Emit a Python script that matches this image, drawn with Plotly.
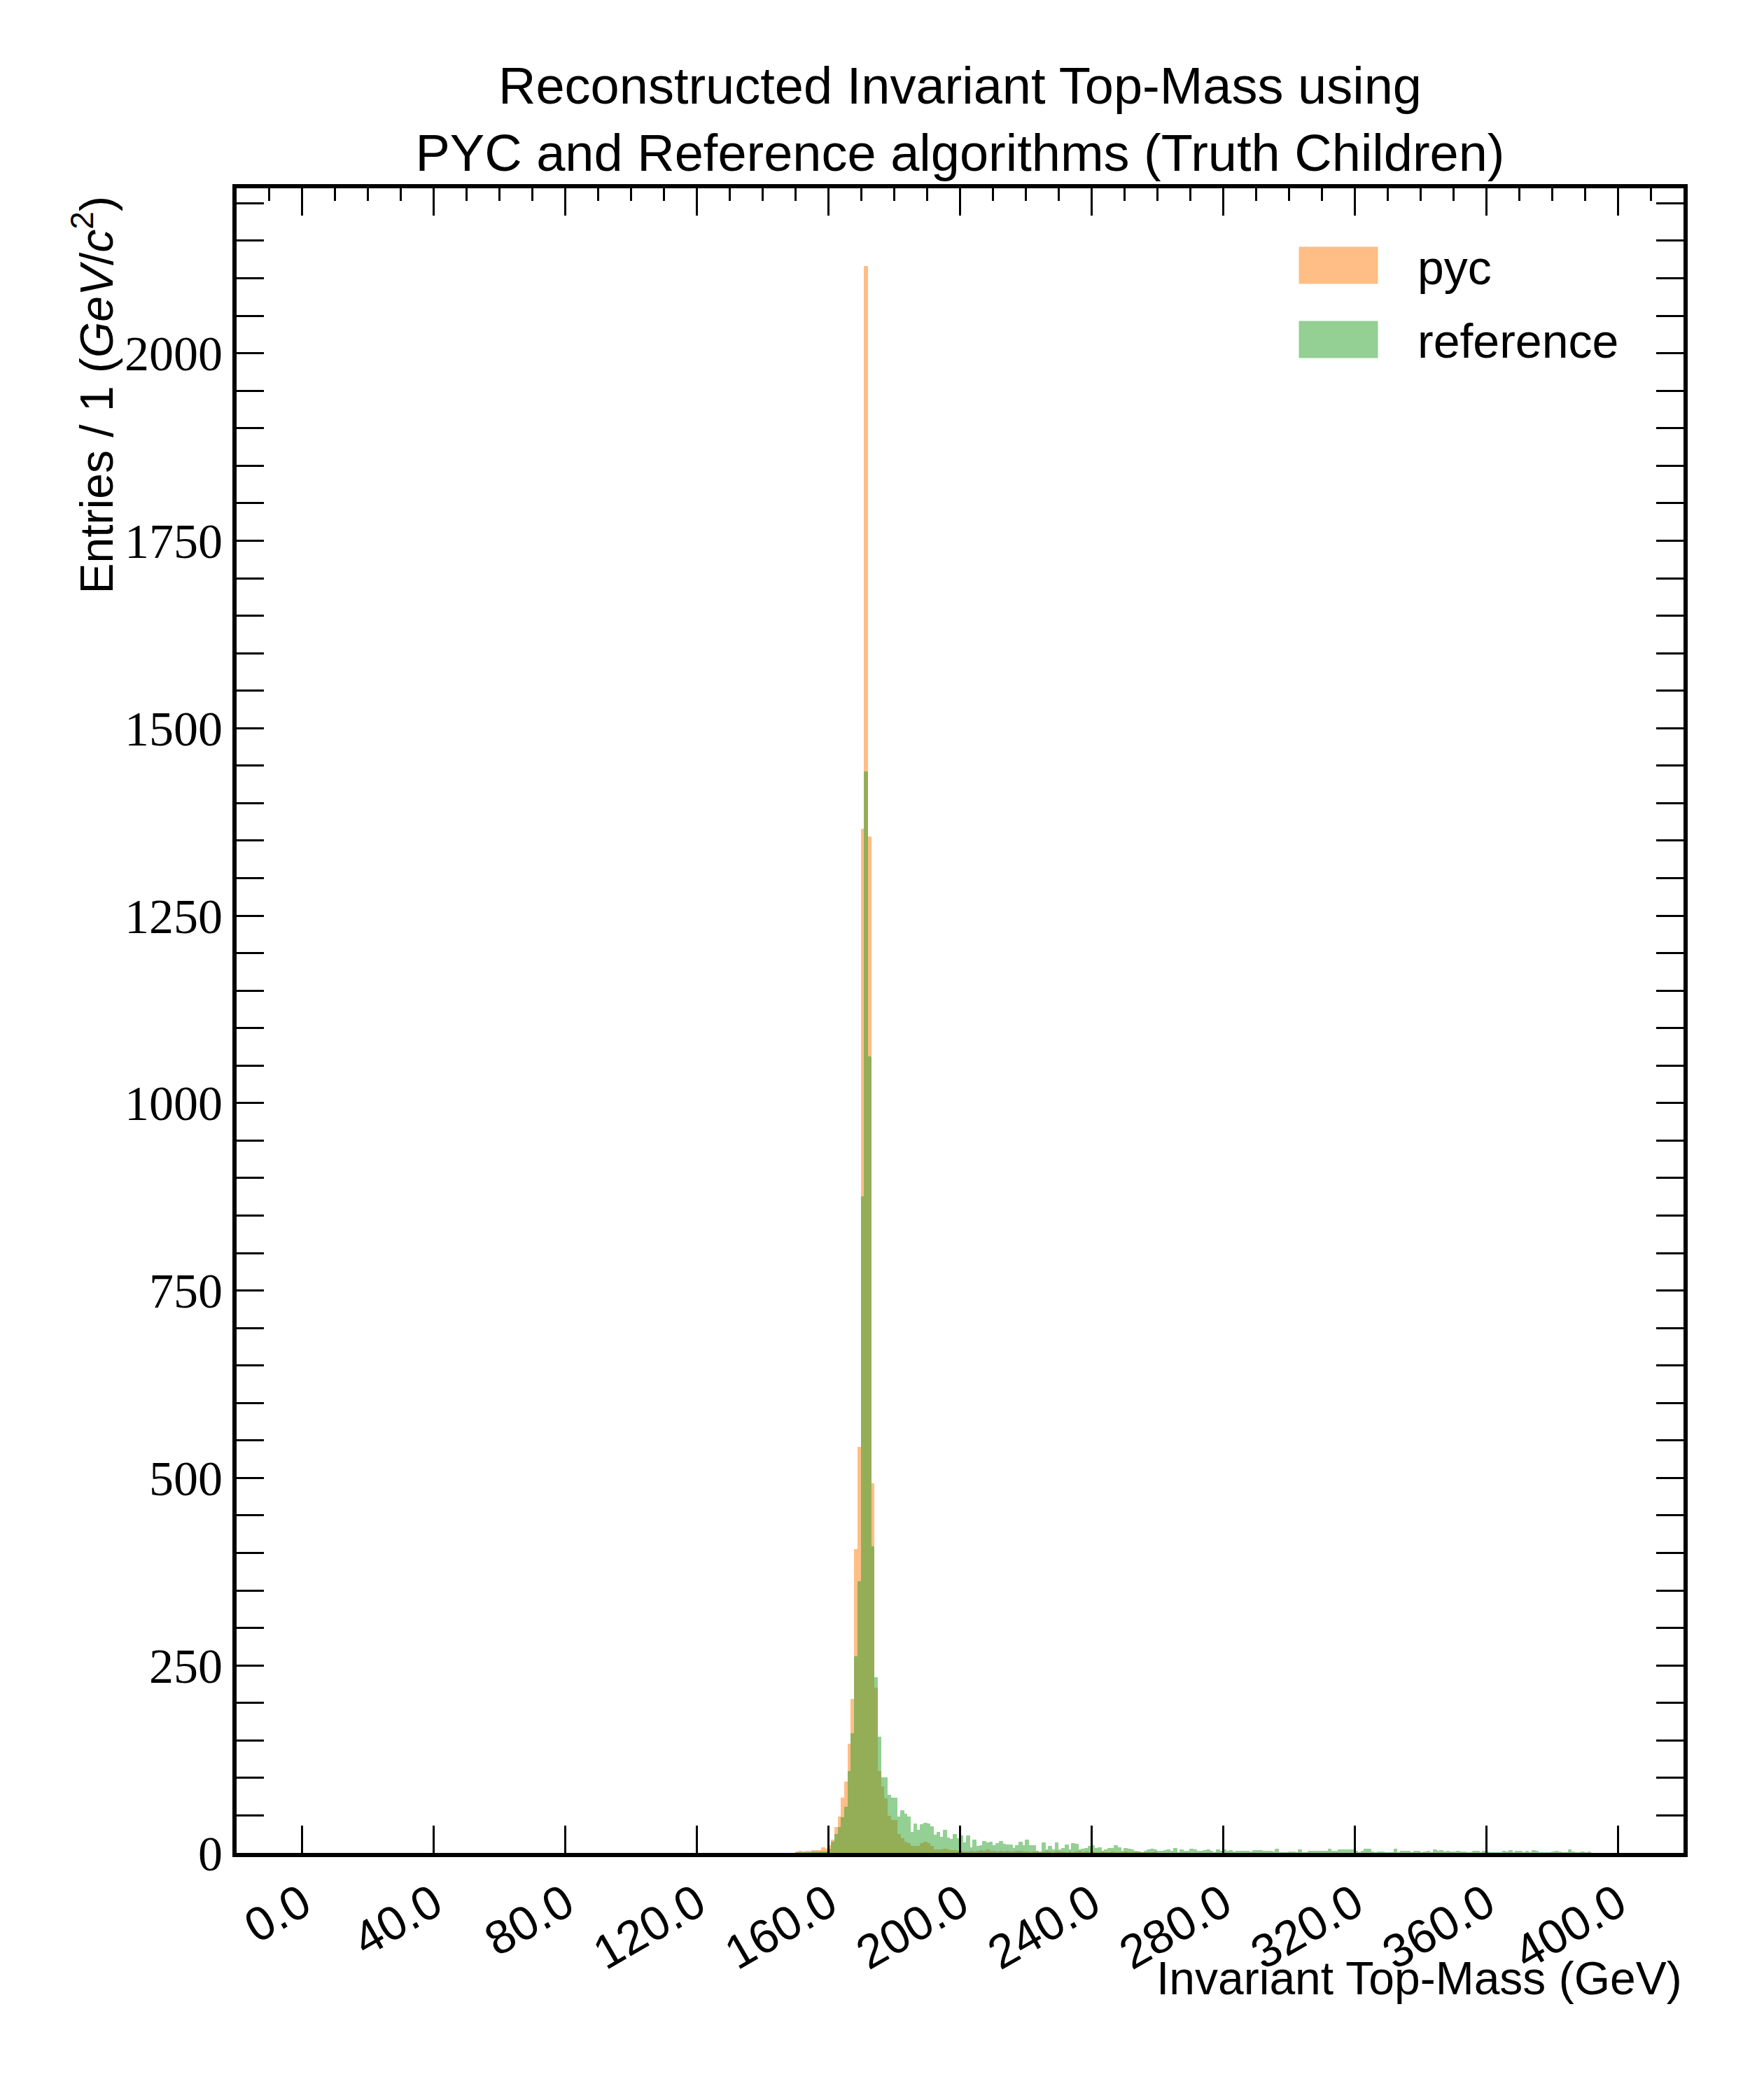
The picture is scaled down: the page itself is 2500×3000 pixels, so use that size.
import plotly.graph_objects as go

BIN_START = 150
pyc_counts = [1,2,1,2,2,3,3,3,7,5,
              9,17,34,48,73,94,145,204,404,541,
              1365,2115,1355,492,219,108,88,72,49,43,
              43,24,19,14,12,8,8,8,12,14,
              12,8,4,4,4,5,4,3,3,2,
              2,1,1,2,1,2,3,2,4,2,
              2,1,2,1,2,1,1,2,2,1,
              1,0,1,1,0,1,2,1,0,2,
              1,1,0,1,0,1,2,0,1,0,
              1,0,0,1,0,0,1,0,0,0,
              1,0,0,0,1,0,0,0,0,1]
ref_counts = [0,0,0,0,0,1,1,1,1,1,
              5,14,24,34,47,61,108,159,261,361,
              875,1441,1061,408,233,154,100,100,77,73,
              73,48,56,51,48,27,38,30,37,39,
              38,35,23,27,21,30,20,18,24,19,
              22,13,22,7,17,8,9,15,13,14,
              9,12,15,11,10,10,6,9,14,9,
              17,9,9,2,1,13,4,8,4,13,
              4,6,10,4,12,11,4,5,6,8,
              9,6,7,2,4,6,6,9,7,2,
              6,5,4,2,1,0,2,4,5,4,
              2,2,3,4,2,6,0,4,2,2,
              5,4,2,2,3,4,2,0,4,2,
              4,2,3,1,2,2,2,2,1,3,
              3,3,2,2,2,1,5,0,0,0,
              1,1,0,4,0,0,2,2,2,2,
              2,2,5,2,2,4,4,4,4,4,
              2,0,2,5,5,1,0,1,1,0,
              0,0,5,0,2,2,2,0,2,2,
              0,1,2,0,4,2,3,1,2,1,
              1,2,1,1,0,0,2,2,0,2,
              1,0,0,0,0,2,1,3,0,2,
              2,0,2,0,3,2,0,0,0,0,
              1,2,1,0,0,4,1,0,0,1,
              0,1]

x_pyc = [BIN_START + i + 0.5 for i in range(len(pyc_counts))]
x_ref = [BIN_START + i + 0.5 for i in range(len(ref_counts))]

ORANGE = "#ff7f0e"
GREEN = "#2ca02c"

fig = go.Figure()
fig.add_trace(go.Bar(x=x_pyc, y=pyc_counts, width=1, name="pyc",
                     marker=dict(color=ORANGE, line=dict(color=ORANGE, width=1)),
                     opacity=0.5))
fig.add_trace(go.Bar(x=x_ref, y=ref_counts, width=1, name="reference",
                     marker=dict(color=GREEN, line=dict(color=GREEN, width=1)),
                     opacity=0.5))
fig.add_trace(go.Scatter(x=[], y=[], xaxis="x2", showlegend=False))

tickfont_x = dict(family="Liberation Sans, Arial", size=68, color="black")
tickfont_y = dict(family="Liberation Serif, DejaVu Serif", size=70, color="black")

L, R, T, B = 330, 2397, 261, 2639
fig.update_layout(
    width=2500, height=3000,
    paper_bgcolor="white", plot_bgcolor="white",
    margin=dict(l=L, r=2500 - R, t=T, b=3000 - B),
    barmode="overlay", bargap=0, showlegend=False,
    title=dict(text="Reconstructed Invariant Top-Mass using<br>PYC and Reference algorithms (Truth Children)",
               x=(L + R) / 2 / 2500, xanchor="center", yref="container",
               y=1 - 140 / 3000, yanchor="middle",
               font=dict(family="Liberation Sans, Arial", size=74, color="black")),
    xaxis=dict(range=[-20, 420], tickmode="linear", tick0=0, dtick=40, tickformat=".1f",
               tickangle=-30, tickfont=tickfont_x, ticks="inside", ticklen=39, tickwidth=3,
               tickcolor="black", showline=True, linewidth=6, linecolor="black",
               showgrid=False, zeroline=False),
    xaxis2=dict(overlaying="x", matches="x", side="top", showticklabels=False,
                tickmode="linear", tick0=0, dtick=40, ticks="inside", ticklen=39, tickwidth=3,
                tickcolor="black", showline=True, linewidth=6, linecolor="black",
                showgrid=False, zeroline=False,
                minor=dict(dtick=10, ticks="inside", ticklen=18, tickwidth=3, tickcolor="black")),
    yaxis=dict(range=[0, 2220], tickmode="linear", tick0=0, dtick=250, tickfont=tickfont_y,
               ticks="inside", ticklen=39, tickwidth=3, tickcolor="black",
               showline=True, linewidth=6, linecolor="black", mirror="allticks",
               showgrid=False, zeroline=False,
               minor=dict(dtick=50, ticks="inside", ticklen=18, tickwidth=3, tickcolor="black")),
)

pw, ph = R - L, B - T
def px(xo):
    return (xo - L) / pw
def py(yo):
    return (B - yo) / ph

ann = [
    dict(text="Entries / 1 (<i>GeV</i>/<i>c</i><sup>2</sup>)", textangle=-90,
         x=px(125), y=py(270), xanchor="center", yanchor="top",
         font=dict(family="Liberation Sans, Arial", size=66, color="black")),
    dict(text="Invariant Top-Mass (GeV)", x=1.0, y=py(2818), xanchor="right", yanchor="middle",
         font=dict(family="Liberation Sans, Arial", size=66, color="black")),
    dict(text="pyc", x=px(2015), y=py(374), xanchor="left", yanchor="middle",
         font=dict(family="Liberation Sans, Arial", size=68, color="black")),
    dict(text="reference", x=px(2015), y=py(479), xanchor="left", yanchor="middle",
         font=dict(family="Liberation Sans, Arial", size=68, color="black")),
]
for a in ann:
    a.update(xref="paper", yref="paper", showarrow=False)
fig.update_layout(annotations=ann)

shapes = [
    dict(type="rect", xref="paper", yref="paper", x0=px(1848), x1=px(1960), y0=py(397), y1=py(345),
         fillcolor=ORANGE, opacity=0.5, line=dict(color=ORANGE, width=1)),
    dict(type="rect", xref="paper", yref="paper", x0=px(1848), x1=px(1960), y0=py(503), y1=py(451),
         fillcolor=GREEN, opacity=0.5, line=dict(color=GREEN, width=1)),
]
fig.update_layout(shapes=shapes)

fig.write_html("out.html")
